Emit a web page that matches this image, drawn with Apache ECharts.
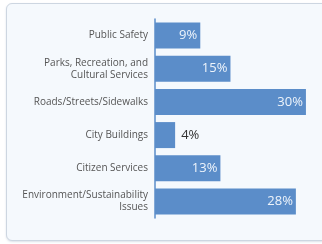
<!DOCTYPE html>
<html>
<head>
<meta charset="utf-8">
<script src="https://cdn.jsdelivr.net/npm/echarts@6/dist/echarts.min.js"></script>
<style>
  html, body { margin: 0; padding: 0; background: #ffffff; }
  .card {
    position: absolute; left: 6px; top: 3px; width: 320px; height: 236px;
    border: 1px solid #cdd6e1; border-radius: 6px; background: #f5f9fd;
    box-shadow: 0 1px 2px rgba(120, 140, 170, 0.25);
  }
  #chart { position: absolute; left: 0; top: 0; width: 322px; height: 244px; }
</style>
</head>
<body>
<div class="card"></div>
<div id="chart"></div>
<script>
const categories = [
  'Public Safety',
  'Parks, Recreation, and\nCultural Services',
  'Roads/Streets/Sidewalks',
  'City Buildings',
  'Citizen Services',
  'Environment/Sustainability\nIssues',
]
const values = [9, 15, 30, 4, 13, 28]
// bars too short to hold their label get it outside
const outsideBelow = 5

const chart = echarts.init(document.getElementById('chart'))

const data = values.map(v => {
  if (v < outsideBelow) {
    return {
      value: v,
      label: { position: 'right', color: '#333', distance: 6 },
    }
  }
  return v
})

chart.setOption({
  animation: false,
  backgroundColor: 'transparent',
  grid: { left: 155, right: 6, top: 19, bottom: 26, containLabel: false },
  xAxis: {
    type: 'value',
    min: 0,
    max: 32,
    show: false,
  },
  yAxis: {
    type: 'category',
    data: categories,
    inverse: true,
    axisLine: { lineStyle: { color: '#5a8cc8', width: 1.5 } },
    axisTick: { show: false },
    axisLabel: {
      color: '#555',
      fontSize: 10,
      fontFamily: 'Open Sans',
      lineHeight: 12,
      align: 'right',
      margin: 7,
    },
  },
  series: [
    {
      type: 'bar',
      data: data,
      barWidth: 26,
      itemStyle: { color: '#5b8dc9' },
      label: {
        show: true,
        position: 'insideRight',
        formatter: '{c}%',
        color: '#eef4fb',
        fontSize: 13,
        fontFamily: 'Open Sans',
        distance: 3,
      },
    },
  ],
})
</script>
</body>
</html>
